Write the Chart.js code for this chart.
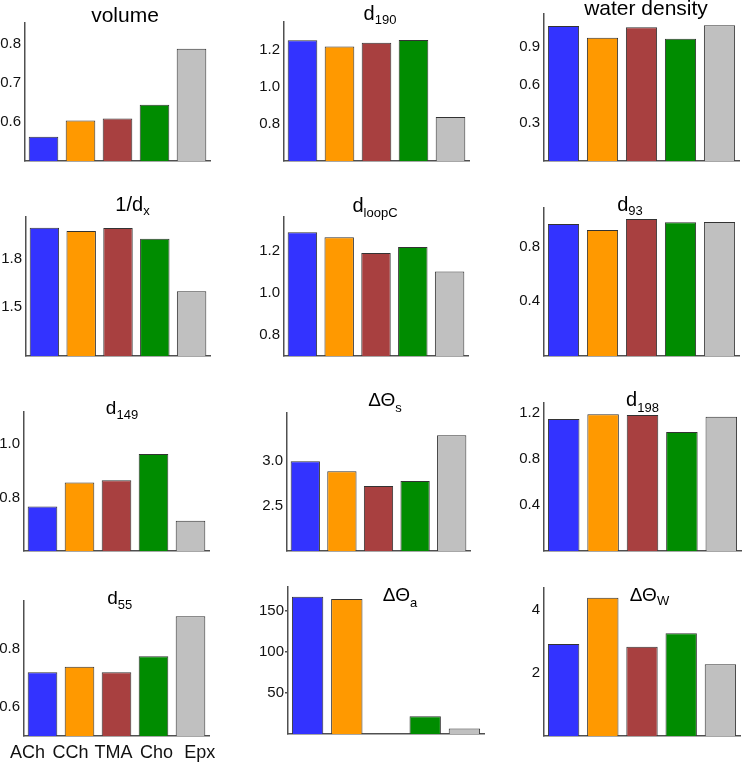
<!DOCTYPE html>
<html><head><meta charset="utf-8">
<script src="https://cdn.jsdelivr.net/npm/chart.js@4"></script>
<style>
html,body{margin:0;padding:0;background:#fff;width:742px;height:763px;overflow:hidden;position:relative;font-family:"Liberation Sans",Arial,sans-serif;}
.pc{position:absolute;}
.ttl{position:absolute;line-height:0;white-space:nowrap;color:#000;transform:translateX(-50%);}
.ttl span{position:relative;}
</style></head><body>
<script>
// ---------- data ----------
const categories = ['ACh','CCh','TMA','Cho','Epx'];
const volume       = [0.562, 0.604, 0.609, 0.644, 0.788];
const d190         = [1.252, 1.218, 1.239, 1.254, 0.838];
const waterDensity = [1.066, 0.973, 1.055, 0.965, 1.071];
const invDx        = [1.991, 1.971, 1.989, 1.923, 1.599];
const dLoopC       = [1.289, 1.265, 1.190, 1.219, 1.103];
const d93          = [0.964, 0.920, 1.000, 0.976, 0.978];
const d149         = [0.766, 0.856, 0.864, 0.962, 0.713];
const dThetaS      = [2.997, 2.886, 2.722, 2.778, 3.286];
const d198         = [1.145, 1.186, 1.180, 1.032, 1.163];
const d55          = [0.720, 0.739, 0.720, 0.775, 0.913];
const dThetaA      = [167.4, 164.6, 0, 21.5, 6.8];
const dThetaW      = [2.92, 4.39, 2.835, 3.26, 2.28];

const ticksVolume = [0.6, 0.7, 0.8];
const ticksD190   = [0.8, 1.0, 1.2];
const ticksWater  = [0.3, 0.6, 0.9];
const ticksInvDx  = [1.5, 1.8];
const ticksLoopC  = [0.8, 1.0, 1.2];
const ticksD93    = [0.4, 0.8];
const ticksD149   = [0.8, 1.0];
const ticksThetaS = [2.5, 3.0];
const ticksD198   = [0.4, 0.8, 1.2];
const ticksD55    = [0.6, 0.8];
const ticksThetaA = [50, 100, 150];
const ticksThetaW = [2, 4];

// ---------- styling ----------
const colors = ['#3333ff', '#ff9900', '#a84040', '#008c00', '#c0c0c0'];
const AX = '#505050';
const FF = '"Liberation Sans", Arial, sans-serif';

const panels = [
  {data: volume,       ticks: ticksVolume, dec: 1, min: 0.5, max: 0.854, L: 25,  R: 210, T: 23,  B: 161,
   title: {main: 'volume', cx: 125, base: 22, fs: 21}},
  {data: d190,         ticks: ticksD190,   dec: 1, min: 0.6, max: 1.351, L: 284, R: 469, T: 22,  B: 161,
   title: {main: 'd', sub: '190', cx: 380, base: 19.5, fs: 20, sfs: 13, off: 4}},
  {data: waterDensity, ticks: ticksWater,  dec: 1, min: 0,   max: 1.160, L: 544, R: 739, T: 14,  B: 161,
   title: {main: 'water density', cx: 646, base: 15, fs: 21}},
  {data: invDx,        ticks: ticksInvDx,  dec: 1, min: 1.2, max: 2.057, L: 26,  R: 210, T: 217, B: 356,
   title: {main: '1/d', sub: 'x', cx: 132.5, base: 211, fs: 20, sfs: 13, off: 3.5}},
  {data: dLoopC,       ticks: ticksLoopC,  dec: 1, min: 0.7, max: 1.362, L: 284, R: 468, T: 217, B: 356,
   title: {main: 'd', sub: 'loopC', cx: 375, base: 212.3, fs: 20, sfs: 13, off: 4.5}},
  {data: d93,          ticks: ticksD93,    dec: 1, min: 0,   max: 1.080, L: 544, R: 739, T: 208, B: 356,
   title: {main: 'd', sub: '93', cx: 630, base: 211, fs: 20, sfs: 13, off: 4}},
  {data: d149,         ticks: ticksD149,   dec: 1, min: 0.6, max: 1.119, L: 24,  R: 209, T: 412, B: 551,
   title: {main: 'd', sub: '149', cx: 122, base: 415, fs: 19, sfs: 13, off: 5}},
  {data: dThetaS,      ticks: ticksThetaS, dec: 1, min: 2.0, max: 3.533, L: 287, R: 470, T: 413, B: 551,
   title: {main: '\u0394\u0398', sub: 's', cx: 385, base: 406.7, fs: 19, sfs: 13, off: 6}},
  {data: d198,         ticks: ticksD198,   dec: 1, min: 0,   max: 1.283, L: 544, R: 741, T: 403, B: 551,
   title: {main: 'd', sub: '198', cx: 642.5, base: 405.7, fs: 20, sfs: 13, off: 6}},
  {data: d55,          ticks: ticksD55,    dec: 1, min: 0.5, max: 0.9655, L: 24, R: 209, T: 601, B: 736, xlabels: true,
   title: {main: 'd', sub: '55', cx: 119.7, base: 605, fs: 19, sfs: 13, off: 5}},
  {data: dThetaA,      ticks: ticksThetaA, dec: 0, min: 0,   max: 179.3, L: 288, R: 484, T: 587, B: 734, tickMarks: true,
   title: {main: '\u0394\u0398', sub: 'a', cx: 400, base: 601.7, fs: 19, sfs: 13, off: 6}},
  {data: dThetaW,      ticks: ticksThetaW, dec: 0, min: 0,   max: 4.70,  L: 544, R: 740, T: 588, B: 736,
   title: {main: '\u0394\u0398', sub: 'W', cx: 649.5, base: 601.7, fs: 19, sfs: 13, off: 3.5}}
];

function addTitle(t) {
  const d = document.createElement('div');
  d.className = 'ttl';
  d.style.left = t.cx + 'px';
  d.style.top = (t.base - 0.3465 * t.fs) + 'px';
  d.style.fontSize = t.fs + 'px';
  d.appendChild(document.createTextNode(t.main));
  if (t.sub) {
    const s = document.createElement('span');
    s.style.fontSize = t.sfs + 'px';
    s.style.top = t.off + 'px';
    s.textContent = t.sub;
    d.appendChild(s);
  }
  document.body.appendChild(d);
}

function zeroPad(s) { s.paddingTop = 0; s.paddingBottom = 0; s.paddingLeft = 0; s.paddingRight = 0; }

function makePanel(p) {
  const AXW = 44, PADT = 12, PADR = p.xlabels ? 14 : 4, PADB = 3;
  const XLH = p.xlabels ? 30 : 0;
  const w = (p.R - p.L) + AXW + PADR;
  const h = (p.B - p.T) + PADT + PADB + XLH;
  const c = document.createElement('canvas');
  c.className = 'pc';
  c.width = w; c.height = h;
  c.style.width = w + 'px'; c.style.height = h + 'px';
  c.style.left = (p.L - AXW) + 'px';
  c.style.top = (p.T - PADT) + 'px';
  document.body.appendChild(c);

  const scales = {
    x: {
      type: 'category', offset: true, position: 'bottom', weight: 0,
      grid: {display: false, drawTicks: false},
      border: {display: true, color: AX, width: 1.5},
      ticks: {display: false},
      afterFit: s => { s.height = 0; zeroPad(s); }
    },
    y: {
      min: p.min, max: p.max,
      grid: {display: !!p.tickMarks, drawOnChartArea: false, drawTicks: !!p.tickMarks, tickLength: 3, color: AX, lineWidth: 1.5},
      border: {display: true, color: AX, width: 1.5},
      ticks: {padding: p.tickMarks ? 1 : 4, autoSkip: false, color: '#111', font: {size: 15, family: FF},
              callback: v => Number(v).toFixed(p.dec)},
      afterBuildTicks: s => { s.ticks = p.ticks.map(v => ({value: v})); },
      afterFit: s => { s.width = AXW; zeroPad(s); }
    }
  };
  if (p.xlabels) {
    scales.xl = {
      type: 'linear', position: 'bottom', weight: 1, bounds: 'data', offset: false,
      min: -0.079, max: 4.216,
      grid: {display: false, drawTicks: false, offset: false},
      border: {display: false},
      ticks: {padding: 6, autoSkip: false, maxRotation: 0, minRotation: 0, color: '#111', font: {size: 18, family: FF},
              callback: v => categories[Math.round(v)]},
      afterBuildTicks: s => { s.ticks = categories.map((_, i) => ({value: i})); },
      afterFit: s => { s.height = XLH; zeroPad(s); }
    };
  }

  new Chart(c, {
    type: 'bar',
    data: {labels: categories, datasets: [{
      data: p.data, backgroundColor: colors, borderColor: '#333333', borderWidth: 1,
      barPercentage: 0.8, categoryPercentage: 1, xAxisID: 'x', yAxisID: 'y'
    }]},
    options: {
      responsive: false, animation: false, devicePixelRatio: 1,
      layout: {padding: {top: PADT, right: PADR, bottom: PADB, left: 0}},
      plugins: {legend: {display: false}, tooltip: {enabled: false}, title: {display: false}},
      scales
    }
  });
  addTitle(p.title);
}

panels.forEach(makePanel);
</script>
</body></html>
